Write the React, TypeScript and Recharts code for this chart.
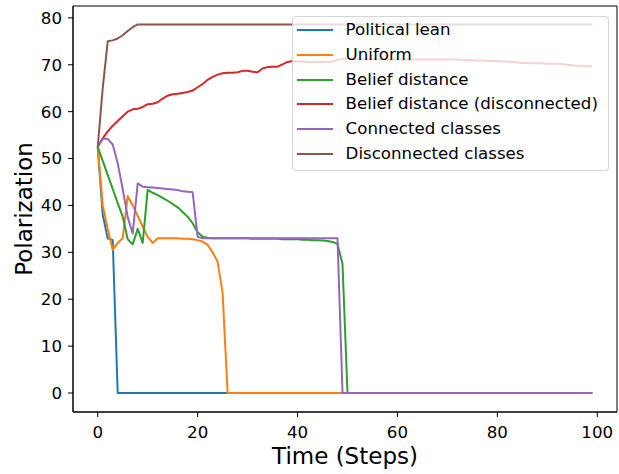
import React from 'react';
import { LineChart, Line, XAxis, YAxis, Legend, ReferenceArea, Label } from 'recharts';

const FONT = '"DejaVu Sans", Verdana, sans-serif';

const steps = Array.from({ length: 100 }, (_, i) => i);

const politicalLean = [
  52.5, 38, 33, 32.6, 0, 0, 0, 0, 0, 0,
  0, 0, 0, 0, 0, 0, 0, 0, 0, 0,
  0, 0, 0, 0, 0, 0, 0, 0, 0, 0,
  0, 0, 0, 0, 0, 0, 0, 0, 0, 0,
  0, 0, 0, 0, 0, 0, 0, 0, 0, 0,
  0, 0, 0, 0, 0, 0, 0, 0, 0, 0,
  0, 0, 0, 0, 0, 0, 0, 0, 0, 0,
  0, 0, 0, 0, 0, 0, 0, 0, 0, 0,
  0, 0, 0, 0, 0, 0, 0, 0, 0, 0,
  0, 0, 0, 0, 0, 0, 0, 0, 0, 0,
];

const uniform = [
  52.5, 40, 35, 30.5, 32, 33, 42, 40, 37.8, 35.5,
  33.3, 32, 33, 33, 33, 33, 33, 32.9, 32.9, 32.8,
  32.6, 32.3, 31.6, 30, 28, 21.3, 0, 0, 0, 0,
  0, 0, 0, 0, 0, 0, 0, 0, 0, 0,
  0, 0, 0, 0, 0, 0, 0, 0, 0, 0,
  0, 0, 0, 0, 0, 0, 0, 0, 0, 0,
  0, 0, 0, 0, 0, 0, 0, 0, 0, 0,
  0, 0, 0, 0, 0, 0, 0, 0, 0, 0,
  0, 0, 0, 0, 0, 0, 0, 0, 0, 0,
  0, 0, 0, 0, 0, 0, 0, 0, 0, 0,
];

const beliefDistance = [
  52.5, 49.5, 46.5, 43.5, 40.5, 37.6, 32.8, 31.7, 35, 32,
  43.3, 42.7, 42.2, 41.6, 41, 40.3, 39.6, 38.6, 37.6, 36.2,
  34.3, 33.3, 33.1, 33, 33, 33, 33, 33, 33, 33,
  33, 32.9, 32.9, 32.9, 32.9, 32.9, 32.9, 32.8, 32.8, 32.8,
  32.8, 32.7, 32.7, 32.6, 32.6, 32.5, 32.4, 32.2, 31.8, 27.5,
  0, 0, 0, 0, 0, 0, 0, 0, 0, 0,
  0, 0, 0, 0, 0, 0, 0, 0, 0, 0,
  0, 0, 0, 0, 0, 0, 0, 0, 0, 0,
  0, 0, 0, 0, 0, 0, 0, 0, 0, 0,
  0, 0, 0, 0, 0, 0, 0, 0, 0, 0,
];

const beliefDistanceDisconnected = [
  52.5, 54.3, 55.8, 57, 58, 59, 60, 60.5, 60.6, 61,
  61.6, 61.7, 62, 62.8, 63.4, 63.7, 63.8, 64, 64.2, 64.5,
  65.2, 65.9, 66.8, 67.4, 67.9, 68.2, 68.3, 68.3, 68.4, 68.7,
  68.7, 68.5, 68.4, 69.2, 69.5, 69.6, 69.6, 70.1, 70.6, 70.8,
  70.7, 70.7, 70.6, 70.6, 70.6, 70.6, 70.6, 70.7, 71, 71.3,
  71.3, 71.2, 71.2, 71.2, 71.2, 71.2, 71.2, 71.1, 71.1, 71.1,
  71.1, 71.1, 71.1, 71.1, 71.1, 71.1, 71.1, 71.1, 71.1, 71.1,
  71.1, 71.1, 71.1, 71, 71, 71, 70.9, 70.9, 70.8, 70.8,
  70.8, 70.7, 70.7, 70.6, 70.5, 70.4, 70.4, 70.3, 70.3, 70.3,
  70.2, 70.2, 70.2, 70.1, 70, 69.9, 69.8, 69.8, 69.7, 69.7,
];

const connectedClasses = [
  52.5, 54.2, 54.2, 53, 49, 43.5, 37.5, 34, 44.7, 44,
  43.9, 43.8, 43.7, 43.6, 43.5, 43.4, 43.3, 43, 42.9, 42.8,
  33.3, 33, 33, 33, 33, 33, 33, 33, 33, 33,
  33, 33, 33, 33, 33, 33, 33, 33, 33, 33,
  33, 33, 33, 33, 33, 33, 33, 33, 33, 0,
  0, 0, 0, 0, 0, 0, 0, 0, 0, 0,
  0, 0, 0, 0, 0, 0, 0, 0, 0, 0,
  0, 0, 0, 0, 0, 0, 0, 0, 0, 0,
  0, 0, 0, 0, 0, 0, 0, 0, 0, 0,
  0, 0, 0, 0, 0, 0, 0, 0, 0, 0,
];

const disconnectedClasses = [
  52.5, 65, 75, 75.2, 75.6, 76.3, 77.2, 78, 78.6, 78.6,
  78.6, 78.6, 78.6, 78.6, 78.6, 78.6, 78.6, 78.6, 78.6, 78.6,
  78.6, 78.6, 78.6, 78.6, 78.6, 78.6, 78.6, 78.6, 78.6, 78.6,
  78.6, 78.6, 78.6, 78.6, 78.6, 78.6, 78.6, 78.6, 78.6, 78.6,
  78.6, 78.6, 78.6, 78.6, 78.6, 78.6, 78.6, 78.6, 78.6, 78.6,
  78.6, 78.6, 78.6, 78.6, 78.6, 78.6, 78.6, 78.6, 78.6, 78.6,
  78.6, 78.6, 78.6, 78.6, 78.6, 78.6, 78.6, 78.6, 78.6, 78.6,
  78.6, 78.6, 78.6, 78.6, 78.6, 78.6, 78.6, 78.6, 78.6, 78.6,
  78.6, 78.6, 78.6, 78.6, 78.6, 78.6, 78.6, 78.6, 78.6, 78.6,
  78.6, 78.6, 78.6, 78.6, 78.6, 78.6, 78.6, 78.6, 78.6, 78.6,
];

const seriesKeys = ['pl', 'uni', 'bd', 'bdd', 'cc', 'dc'];
const seriesNames = [
  'Political lean',
  'Uniform',
  'Belief distance',
  'Belief distance (disconnected)',
  'Connected classes',
  'Disconnected classes',
];
const seriesColors = ['#1f77b4', '#ff7f0e', '#2ca02c', '#d62728', '#9467bd', '#8c564b'];
const seriesValues = [
  politicalLean,
  uniform,
  beliefDistance,
  beliefDistanceDisconnected,
  connectedClasses,
  disconnectedClasses,
];

const xTicks = [0, 20, 40, 60, 80, 100];
const yTicks = [0, 10, 20, 30, 40, 50, 60, 70, 80];
const xLabel = 'Time (Steps)';
const yLabel = 'Polarization';

const X_DOMAIN: [number, number] = [-4.95, 103.95];
const Y_DOMAIN: [number, number] = [-4.05, 82.53];

const data = steps.map((t, i) => {
  const row: Record<string, number> = { t };
  seriesKeys.forEach((k, s) => {
    row[k] = seriesValues[s][i];
  });
  return row;
});

function LegendBox() {
  return (
    <div
      style={{
        boxSizing: 'border-box',
        width: 317,
        height: 155,
        border: '1px solid rgba(204,204,204,0.8)',
        borderRadius: 4,
        background: 'rgba(255,255,255,0.8)',
        paddingTop: 1,
        fontFamily: FONT,
        fontSize: 16.67,
        color: '#000',
      }}
    >
      {seriesNames.map((n, i) => (
        <div
          key={n}
          style={{ height: 24.8, display: 'flex', alignItems: 'center', whiteSpace: 'nowrap' }}
        >
          <div style={{ marginLeft: 4.4, width: 36, height: 2, background: seriesColors[i], flex: 'none' }} />
          <span style={{ marginLeft: 12.6, lineHeight: '20px' }}>{n}</span>
        </div>
      ))}
    </div>
  );
}

const tickStyle = { fontFamily: FONT, fontSize: 16.67, fill: '#000' };

export default function App() {
  return (
    <div style={{ position: 'absolute', left: 0, top: 0, background: '#fff' }}>
      <LineChart
        width={619}
        height={474}
        data={data}
        margin={{ top: 6, right: 2, bottom: 0, left: 0 }}
      >
        <ReferenceArea
          x1={X_DOMAIN[0]}
          x2={X_DOMAIN[1]}
          y1={Y_DOMAIN[0]}
          y2={Y_DOMAIN[1]}
          fill="none"
          fillOpacity={0}
          stroke="#000"
          strokeWidth={1}
          ifOverflow="visible"
        />
        <XAxis
          dataKey="t"
          type="number"
          domain={X_DOMAIN}
          allowDataOverflow
          ticks={xTicks}
          height={62}
          tickSize={5}
          tickMargin={9}
          stroke="#000"
          tick={tickStyle}
          axisLine={{ stroke: '#000', strokeWidth: 1 }}
          tickLine={{ stroke: '#000', strokeWidth: 1 }}
        >
          <Label
            content={() => (
              <text
                x={345}
                y={464}
                textAnchor="middle"
                fontFamily={FONT}
                fontSize={23}
                fill="#000"
              >
                {xLabel}
              </text>
            )}
          />
        </XAxis>
        <YAxis
          type="number"
          domain={Y_DOMAIN}
          allowDataOverflow
          ticks={yTicks}
          width={73}
          tickSize={5}
          tickMargin={6}
          stroke="#000"
          tick={tickStyle}
          axisLine={{ stroke: '#000', strokeWidth: 1 }}
          tickLine={{ stroke: '#000', strokeWidth: 1 }}
        >
          <Label
            content={() => (
              <text
                x={32}
                y={209}
                transform="rotate(-90, 32, 209)"
                textAnchor="middle"
                fontFamily={FONT}
                fontSize={23}
                fill="#000"
              >
                {yLabel}
              </text>
            )}
          />
        </YAxis>
        {seriesKeys.map((k, i) => (
          <Line
            key={k}
            type="linear"
            dataKey={k}
            name={seriesNames[i]}
            stroke={seriesColors[i]}
            strokeWidth={2}
            dot={false}
            activeDot={false}
            isAnimationActive={false}
            strokeLinejoin="round"
          />
        ))}
        <Legend
          layout="vertical"
          align="center"
          verticalAlign="middle"
          content={() => <LegendBox />}
          wrapperStyle={{ position: 'absolute', left: 291.6, top: 15.6, width: 317, height: 155 }}
        />
      </LineChart>
    </div>
  );
}
